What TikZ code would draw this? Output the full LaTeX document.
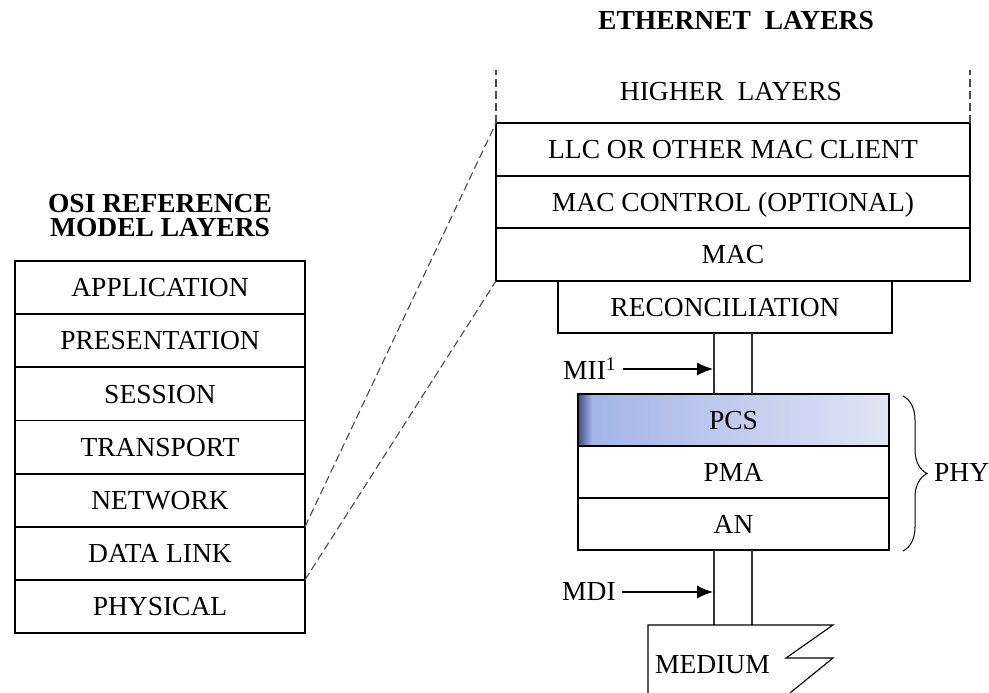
\documentclass[tikz,border=0pt]{standalone}
\usepackage{fontspec}
\setmainfont{Liberation Serif}
\usetikzlibrary{arrows.meta,decorations.pathreplacing}
\definecolor{dashgrey}{HTML}{4A4A4A}
\definecolor{wiregrey}{HTML}{333333}
\definecolor{pcsdark}{HTML}{3E4C85}
\definecolor{pcsmid}{HTML}{A4B4E8}
\definecolor{pcslight}{HTML}{E0E5F5}
\begin{document}
\begin{tikzpicture}[x=1pt,y=-1pt,
  txt/.style={font=\fontsize{27.5}{30}\selectfont, inner sep=0pt},
  ttl/.style={font=\fontsize{27.5}{24}\selectfont\bfseries, inner sep=0pt, align=center},
  layer/.style={draw, line width=1.8pt, inner sep=0pt, outer sep=0pt, anchor=north west,
    font=\fontsize{27.5}{30}\selectfont, text height=18.5pt, text depth=0pt},
  osi/.style={layer, minimum width=290pt, minimum height=53.1pt},
  eth/.style={layer, minimum width=474pt},
  phy/.style={layer, minimum width=311pt},
  dashln/.style={draw=dashgrey, line width=1.1pt, dash pattern=on 8pt off 4pt},
  wire/.style={draw=wiregrey, line width=1.2pt},
  arr/.style={line width=1.1pt, -{Latex[length=16pt,width=13pt]}}]
\useasboundingbox (0,0) rectangle (989,693);

% OSI stack
\node[ttl] (osititle) at (160,216) {OSI REFERENCE\\MODEL LAYERS};
\node[osi] (app) at (15,261.0) {APPLICATION};
\node[osi] (pres) at (15,314.1) {PRESENTATION};
\node[osi] (sess) at (15,367.3) {SESSION};
\node[osi] (trans) at (15,420.4) {TRANSPORT};
\node[osi] (net) at (15,473.6) {NETWORK};
\node[osi] (dl) at (15,526.7) {DATA LINK};
\node[osi] (phys) at (15,579.9) {PHYSICAL};

% Ethernet stack
\node[ttl] (ethtitle) at (736,21) {ETHERNET~~LAYERS};
\node[txt] (higher) at (731,92) {HIGHER~~LAYERS};
\node[eth, minimum height=53pt] (llc) at (496,123) {LLC OR OTHER MAC CLIENT};
\node[eth, minimum height=52pt] (macctl) at (496,176) {MAC CONTROL (OPTIONAL)};
\node[eth, minimum height=53pt] (mac) at (496,228) {MAC};
\node[layer, minimum width=334pt, minimum height=52pt] (recon) at (558,281) {RECONCILIATION};

% PCS shading
\shade[left color=pcsdark, right color=pcsmid] (578,394) rectangle (592,446);
\shade[left color=pcsmid, right color=pcslight] (592,394) rectangle (889,446);
\node[phy, minimum height=52pt] (pcs) at (578,394) {PCS};
\node[phy, minimum height=52pt] (pma) at (578,446) {PMA};
\node[phy, minimum height=52pt] (an) at (578,498) {AN};

% dashed mapping lines
\coordinate (topl) at (496,70);
\coordinate (topr) at (970,70);
\draw[dashln] (dl.north east) -- (llc.north west);
\draw[dashln] (dl.south east) -- (mac.south west);
\draw[dashln] (llc.north west) -- (topl);
\draw[dashln] (llc.north east) -- (topr);

% wires
\coordinate (w1) at (714,0);
\coordinate (w2) at (752,0);
\coordinate (medtop) at (0,625);
\draw[wire] (recon.south -| w1) -- (pcs.north -| w1);
\draw[wire] (recon.south -| w2) -- (pcs.north -| w2);
\draw[wire] (an.south -| w1) -- (medtop -| w1);
\draw[wire] (an.south -| w2) -- (medtop -| w2);

% MII / MDI labels
\node[txt, anchor=west] (mii) at (563,369) {MII\textsuperscript{1}};
\coordinate (miis) at (623,369);
\coordinate (miit) at (713,369);
\draw[arr] (miis) -- (miit);
\node[txt, anchor=west] (mdi) at (562,592) {MDI};
\coordinate (mdis) at (622,592);
\coordinate (mdit) at (713,592);
\draw[arr] (mdis) -- (mdit);

% PHY brace
\draw[line width=1pt, decorate, decoration={brace, amplitude=24pt}] (903,396) -- (903,551);
\node[txt, anchor=west] (phylbl) at (934,472) {PHY};

% Medium
\draw[line width=1.1pt] (648,693) -- (648,625) -- (833,625) -- (786,658) -- (833,658) -- (790,693);
\node[txt, anchor=west] (medium) at (655,665) {MEDIUM};
\end{tikzpicture}
\end{document}
